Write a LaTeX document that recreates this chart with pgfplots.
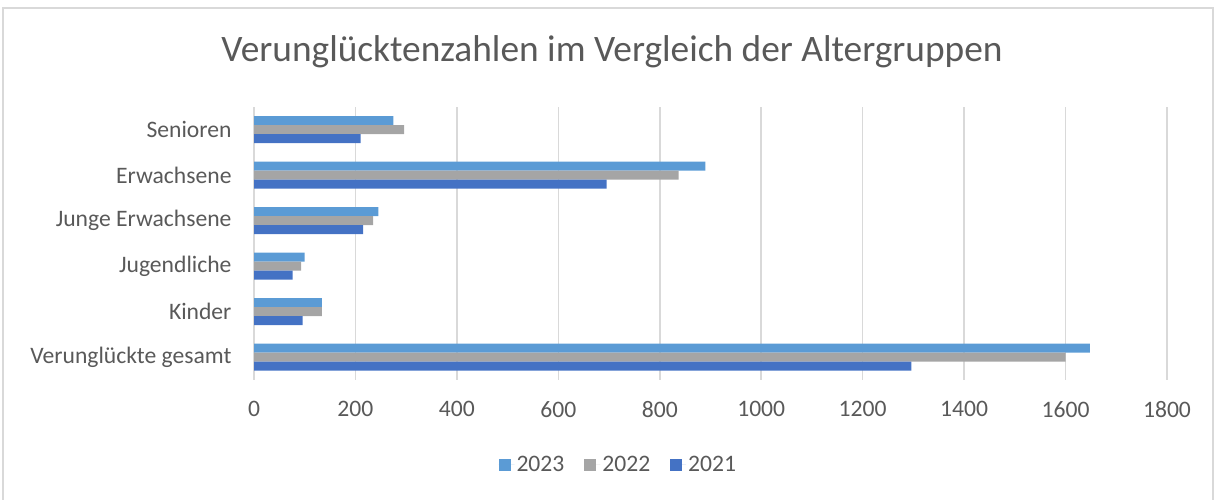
\documentclass[border=0pt]{standalone}
\usepackage{fontspec}
\setmainfont{Carlito}
\usepackage{pgfplots}
\pgfplotsset{compat=1.18}
\definecolor{c23}{HTML}{5B9BD5}
\definecolor{c22}{HTML}{A5A5A5}
\definecolor{c21}{HTML}{4472C4}
\definecolor{txt}{HTML}{595959}
\definecolor{gridc}{HTML}{D9D9D9}
\pgfplotsset{sqlegend/.style={legend image code/.code={
  \fill[##1] (0bp,-6bp) rectangle (12bp,6bp);
  \path (0bp,0bp) -- (16bp,0bp);}}}
\begin{document}
\begin{tikzpicture}[x=1bp,y=1bp]
\draw[gridc, line width=1.2bp] (3,-5) rectangle (1213,492);
\node[txt, font=\fontsize{37.5}{42}\selectfont] at (612,448) {Verunglücktenzahlen im Vergleich der Altergruppen};
\begin{axis}[
  at={(254bp,120bp)}, anchor=south west,
  scale only axis, width=913bp, height=273bp,
  xbar, bar width=9bp,
  xmin=0, xmax=1800, ymin=-0.5, ymax=5.5,
  xtick={0,200,...,1800},
  ytick={0,...,5},
  yticklabels={Verunglückte gesamt, Kinder, Jugendliche, Junge Erwachsene, Erwachsene, Senioren},
  axis line style={draw=none},
  major tick length=0pt,
  xmajorgrids, grid style={gridc, line width=1.5bp},
  ticklabel style={txt, font=\fontsize{23.7}{28}\selectfont},
  xticklabel style={yshift=-18bp},
  yticklabel style={xshift=-19bp},
  /pgf/number format/assume math mode=true,
  /pgf/number format/1000 sep={},
  legend style={at={(0.399,-0.311)}, anchor=center, draw=none, fill=none,
    legend columns=-1, font=\fontsize{23.7}{28}\selectfont, text=txt,
    /tikz/every even column/.append style={column sep=18bp}},
]
\addplot[fill=c23, draw=none, bar shift=9bp, sqlegend] coordinates {(1648,0) (134,1) (100,2) (245,3) (890,4) (275,5)};
\addplot[fill=c22, draw=none, bar shift=0bp, sqlegend] coordinates {(1600,0) (134,1) (93,2) (235,3) (837,4) (296,5)};
\addplot[fill=c21, draw=none, bar shift=-9bp, sqlegend] coordinates {(1296,0) (96,1) (76,2) (215,3) (695,4) (210,5)};
\legend{2023, 2022, 2021}
\end{axis}
\pgfresetboundingbox
\useasboundingbox (0,0) rectangle (1217,500);
\end{tikzpicture}
\end{document}
